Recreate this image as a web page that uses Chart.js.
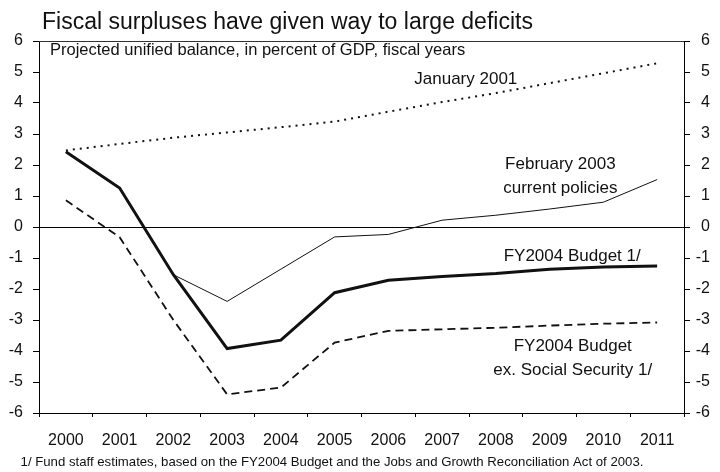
<!DOCTYPE html>
<html>
<head>
<meta charset="utf-8">
<script src="https://cdn.jsdelivr.net/npm/chart.js@4.4.1/dist/chart.umd.min.js"></script>
<style>
  html, body { margin: 0; padding: 0; background: #fff; }
  #wrap { width: 720px; height: 472px; }
</style>
</head>
<body>
<div id="wrap"><canvas id="fiscalChart" width="720" height="472"></canvas></div>
<script>
// fiscal years on the x axis
const years = ['2000', '2001', '2002', '2003', '2004', '2005', '2006', '2007', '2008', '2009', '2010', '2011'];

// unified balance, percent of GDP
const january2001 = [2.47, 2.68, 2.88, 3.05, 3.22, 3.40, 3.72, 4.03, 4.32, 4.64, 4.96, 5.28];
const february2003 = [null, null, -1.54, -2.40, -1.36, -0.32, -0.24, 0.22, 0.38, 0.58, 0.80, 1.53];
const fy2004Budget = [2.43, 1.26, -1.54, -3.92, -3.65, -2.12, -1.72, -1.60, -1.50, -1.36, -1.29, -1.26];
const fy2004ExSocSec = [0.86, -0.33, -3.00, -5.40, -5.18, -3.73, -3.35, -3.30, -3.25, -3.18, -3.12, -3.08];

const yMin = -6;
const yMax = 6;

const title = 'Fiscal surpluses have given way to large deficits';
const subtitle = 'Projected unified balance, in percent of GDP, fiscal years';
const footnote = '1/ Fund staff estimates, based on the FY2004 Budget and the Jobs and Growth Reconciliation Act of 2003.';

// series captions, anchored at (year index, value)
const captions = [
    { text: 'January 2001', at: 7.44, value: 4.77 },
    { text: 'February 2003', at: 9.2, value: 2.02 },
    { text: 'current policies', at: 9.2, value: 1.25 },
    { text: 'FY2004 Budget 1/', at: 9.42, value: -0.96 },
    { text: 'FY2004 Budget', at: 9.43, value: -3.84 },
    { text: 'ex. Social Security 1/', at: 9.43, value: -4.61 }
];

const FONT = '"Liberation Sans", Arial, Helvetica, sans-serif';
const INK = '#111';

const textPlugin = {
    id: 'chartTexts',
    afterDraw(chart) {
        const { ctx, chartArea, scales } = chart;
        ctx.save();

        // top edge of the plot frame, on the 6 tick
        const topY = Math.round(scales.y.getPixelForValue(yMax)) + 0.5;
        ctx.strokeStyle = '#333';
        ctx.lineWidth = 1;
        ctx.beginPath();
        ctx.moveTo(scales.x.left, topY);
        ctx.lineTo(scales.x.right, topY);
        ctx.stroke();

        ctx.fillStyle = INK;
        ctx.textAlign = 'left';
        ctx.textBaseline = 'alphabetic';
        ctx.font = '23px ' + FONT;
        ctx.fillText(title, 42, 28.5);
        ctx.font = '16.5px ' + FONT;
        ctx.fillText(subtitle, chartArea.left + 11, 55);

        ctx.textAlign = 'center';
        ctx.textBaseline = 'middle';
        ctx.font = '17px ' + FONT;
        captions.forEach(c => {
            ctx.fillText(c.text, scales.x.getPixelForValue(c.at), scales.y.getPixelForValue(c.value));
        });

        ctx.font = '13.2px ' + FONT;
        ctx.fillText(footnote, 332, 462);
        ctx.restore();
    }
};

const ctx = document.getElementById('fiscalChart').getContext('2d');

new Chart(ctx, {
    type: 'line',
    data: {
        labels: years,
        datasets: [
            {
                label: 'FY2004 Budget 1/',
                data: fy2004Budget,
                borderColor: INK,
                borderWidth: 3,
                pointRadius: 0,
                tension: 0
            },
            {
                label: 'February 2003 current policies',
                data: february2003,
                borderColor: INK,
                borderWidth: 1,
                pointRadius: 0,
                tension: 0
            },
            {
                label: 'FY2004 Budget ex. Social Security 1/',
                data: fy2004ExSocSec,
                borderColor: INK,
                borderWidth: 1.8,
                borderDash: [8, 5],
                pointRadius: 0,
                tension: 0
            },
            {
                label: 'January 2001',
                data: january2001,
                borderColor: INK,
                borderWidth: 2,
                borderDash: [2, 5],
                borderCapStyle: 'butt',
                pointRadius: 0,
                tension: 0
            }
        ]
    },
    options: {
        responsive: false,
        animation: false,
        devicePixelRatio: 1,
        layout: {
            padding: { top: 41, left: 0, right: 10, bottom: 0 }
        },
        plugins: {
            legend: { display: false },
            tooltip: { enabled: false }
        },
        scales: {
            x: {
                type: 'category',
                offset: true,
                grid: {
                    offset: true,
                    drawOnChartArea: false,
                    tickLength: 4,
                    tickColor: '#000'
                },
                border: { color: '#000', width: 1 },
                ticks: {
                    color: INK,
                    font: { family: FONT, size: 16 },
                    padding: 14,
                    maxRotation: 0,
                    autoSkip: false
                },
                afterFit(scale) { scale.height = 59; }
            },
            y: {
                position: 'left',
                min: yMin,
                max: yMax,
                grid: {
                    // only the zero line runs across the plot
                    color: c => c.tick.value === 0 ? '#000' : 'rgba(0,0,0,0)',
                    lineWidth: 1,
                    tickLength: 6,
                    tickColor: '#000'
                },
                border: { color: '#000', width: 1 },
                ticks: {
                    stepSize: 1,
                    color: INK,
                    font: { family: FONT, size: 16 },
                    padding: 10
                },
                afterFit(scale) { scale.width = 39; }
            },
            y2: {
                position: 'right',
                min: yMin,
                max: yMax,
                grid: {
                    drawOnChartArea: false,
                    tickLength: 6,
                    tickColor: '#000'
                },
                border: { color: '#000', width: 1 },
                ticks: {
                    stepSize: 1,
                    color: INK,
                    font: { family: FONT, size: 16 },
                    padding: 4,
                    crossAlign: 'far'
                },
                afterFit(scale) { scale.width = 26; }
            }
        }
    },
    plugins: [textPlugin]
});
</script>
</body>
</html>
